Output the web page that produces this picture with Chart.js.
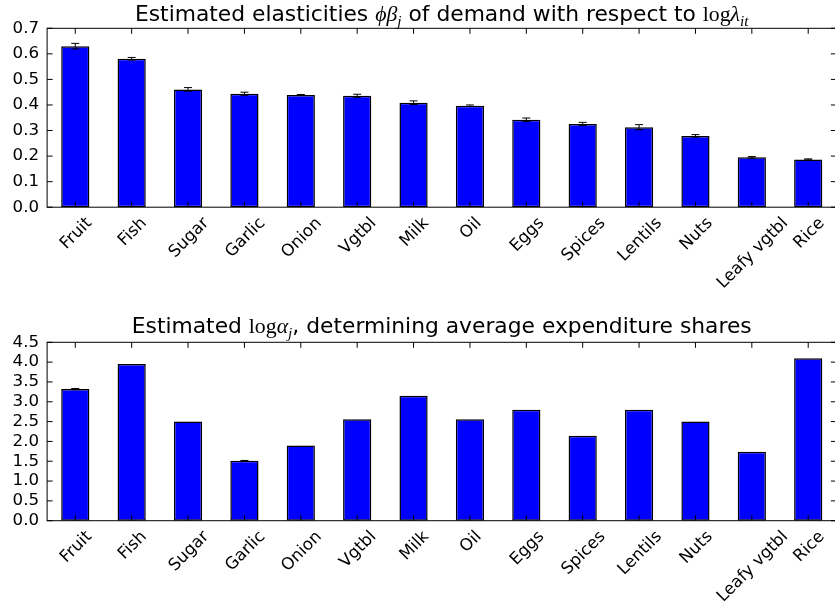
<!DOCTYPE html>
<html>
<head>
<meta charset="utf-8">
<script src="https://cdn.jsdelivr.net/npm/chart.js@4.4.1/dist/chart.umd.min.js"></script>
<style>
  html, body { margin: 0; padding: 0; background: #fff; overflow: hidden; width: 835px; height: 611px; }
  canvas { display: block; }
</style>
</head>
<body>
<canvas id="elast" width="840" height="306"></canvas>
<canvas id="alpha" width="840" height="305"></canvas>
<script>
// Food groups, in the order they are plotted
const categories = ['Fruit', 'Fish', 'Sugar', 'Garlic', 'Onion', 'Vgtbl', 'Milk', 'Oil',
                    'Eggs', 'Spices', 'Lentils', 'Nuts', 'Leafy vgtbl', 'Rice'];

// Estimated elasticities phi*beta_j and their standard errors
const elasticity    = [0.630, 0.581, 0.461, 0.444, 0.439, 0.436, 0.409, 0.397, 0.342, 0.326, 0.313, 0.279, 0.195, 0.187];
const elasticityErr = [0.011, 0.005, 0.007, 0.006, 0.002, 0.006, 0.007, 0.003, 0.007, 0.006, 0.010, 0.005, 0.003, 0.002];

// Estimated log alpha_j and their standard errors
const logAlpha    = [3.32, 3.95, 2.50, 1.51, 1.90, 2.56, 3.15, 2.56, 2.80, 2.14, 2.80, 2.50, 1.74, 4.10];
const logAlphaErr = [0.015, 0, 0, 0.01, 0, 0, 0, 0, 0, 0, 0, 0, 0, 0];

// Y tick values for each panel
const elasticityTicks = [0.0, 0.1, 0.2, 0.3, 0.4, 0.5, 0.6, 0.7];
const logAlphaTicks   = [0.0, 0.5, 1.0, 1.5, 2.0, 2.5, 3.0, 3.5, 4.0, 4.5];

const TICK_PX = 16.67;
const TITLE_PX = 21.8;
const SANS = '"DejaVu Sans", sans-serif';
const SERIF = '"Liberation Serif", "DejaVu Serif", serif';

// Axes frame, inward tick marks, error bars, rotated category labels and the mixed-font title
const panelDecor = {
  id: 'panelDecor',
  afterDatasetsDraw(chart, args, opts) {
    const ctx = chart.ctx;
    const xs = chart.scales.x, ys = chart.scales.y;
    ctx.save();
    ctx.strokeStyle = '#000';
    ctx.lineWidth = 1;
    opts.values.forEach((v, i) => {
      const e = opts.errors[i];
      if (!e) return;
      const x = xs.getPixelForValue(i);
      const y0 = ys.getPixelForValue(v - e), y1 = ys.getPixelForValue(v + e);
      ctx.beginPath();
      ctx.moveTo(x, y0); ctx.lineTo(x, y1);
      ctx.moveTo(x - 4, y0); ctx.lineTo(x + 4, y0);
      ctx.moveTo(x - 4, y1); ctx.lineTo(x + 4, y1);
      ctx.stroke();
    });
    ctx.restore();
  },
  afterDraw(chart, args, opts) {
    const ctx = chart.ctx;
    const a = chart.chartArea;
    const xs = chart.scales.x, ys = chart.scales.y;
    const TL = 5.5;
    ctx.save();
    ctx.strokeStyle = '#000';
    ctx.lineWidth = 1;
    // frame
    ctx.strokeRect(a.left, a.top, a.right - a.left, a.bottom - a.top);
    // inward ticks
    ctx.beginPath();
    ys.ticks.forEach(t => {
      const y = ys.getPixelForValue(t.value);
      ctx.moveTo(a.left, y); ctx.lineTo(a.left + TL, y);
      ctx.moveTo(a.right, y); ctx.lineTo(a.right - TL, y);
    });
    categories.forEach((c, i) => {
      const x = xs.getPixelForValue(i);
      ctx.moveTo(x, a.bottom); ctx.lineTo(x, a.bottom - TL);
      ctx.moveTo(x, a.top); ctx.lineTo(x, a.top + TL);
    });
    ctx.stroke();

    // category labels rotated 45 degrees, centred under each tick
    ctx.fillStyle = '#000';
    ctx.font = TICK_PX + 'px ' + SANS;
    const lineH = TICK_PX * 1.164;
    categories.forEach((c, i) => {
      const x = xs.getPixelForValue(i);
      const w = ctx.measureText(c).width;
      const box = (w + lineH) * Math.SQRT1_2;
      const cy = a.bottom + 5.6 + box / 2;
      ctx.save();
      ctx.translate(x, cy);
      ctx.rotate(-Math.PI / 4);
      ctx.textAlign = 'center';
      ctx.textBaseline = 'alphabetic';
      ctx.fillText(c, 0, (0.928 - 0.236) / 2 * TICK_PX);
      ctx.restore();
    });

    // title built from plain and math segments
    const fonts = {
      sans: TITLE_PX + 'px ' + SANS,
      rm: TITLE_PX + 'px ' + SERIF,
      it: 'italic ' + TITLE_PX + 'px ' + SERIF,
      sub: 'italic ' + (TITLE_PX * 0.7) + 'px ' + SERIF
    };
    const segs = opts.title;
    let total = 0;
    segs.forEach(s => { ctx.font = fonts[s.f]; s.w = ctx.measureText(s.t).width; total += s.w; });
    let x = (a.left + a.right) / 2 - total / 2;
    ctx.textAlign = 'left';
    ctx.textBaseline = 'alphabetic';
    segs.forEach(s => {
      ctx.font = fonts[s.f];
      ctx.fillText(s.t, x, opts.titleBaseline + (s.f === 'sub' ? TITLE_PX * 0.22 : 0));
      x += s.w;
    });
    ctx.restore();
  }
};

function makePanel(id, values, errors, ticks, title, titleBaseline, padTop, padBottom) {
  return new Chart(document.getElementById(id), {
    type: 'bar',
    data: {
      labels: categories,
      datasets: [{
        data: values,
        backgroundColor: '#0000ff',
        borderColor: '#000',
        borderWidth: 1.5,
        borderSkipped: false,
        categoryPercentage: 0.5,
        barPercentage: 1.0
      }]
    },
    options: {
      responsive: false,
      animation: false,
      layout: { padding: { left: 0, right: 3.6, top: padTop, bottom: padBottom } },
      plugins: {
        legend: { display: false },
        tooltip: { enabled: false },
        panelDecor: { values, errors, title, titleBaseline }
      },
      scales: {
        x: { type: 'category', display: false, offset: true },
        y: {
          min: ticks[0],
          max: ticks[ticks.length - 1],
          afterBuildTicks(scale) { scale.ticks = ticks.map(v => ({ value: v })); },
          afterFit(scale) { scale.width = 47.1; },
          grid: { display: false, drawTicks: false },
          border: { display: false },
          ticks: {
            autoSkip: false,
            padding: 8,
            color: '#000',
            font: { family: 'DejaVu Sans', size: TICK_PX },
            callback: v => Number(v).toFixed(1)
          }
        }
      }
    },
    plugins: [panelDecor]
  });
}

makePanel('elast', elasticity, elasticityErr, elasticityTicks, [
  { t: 'Estimated elasticities ', f: 'sans' },
  { t: '\u03D5\u03B2', f: 'it' },
  { t: 'j', f: 'sub' },
  { t: ' of demand with respect to ', f: 'sans' },
  { t: 'log', f: 'rm' },
  { t: '\u03BB', f: 'it' },
  { t: 'it', f: 'sub' }
], 21, 28.3, 98.8);

makePanel('alpha', logAlpha, logAlphaErr, logAlphaTicks, [
  { t: 'Estimated ', f: 'sans' },
  { t: 'log', f: 'rm' },
  { t: '\u03B1', f: 'it' },
  { t: 'j', f: 'sub' },
  { t: ', determining average expenditure shares', f: 'sans' }
], 27.3, 36.3, 90.3);
</script>
</body>
</html>
